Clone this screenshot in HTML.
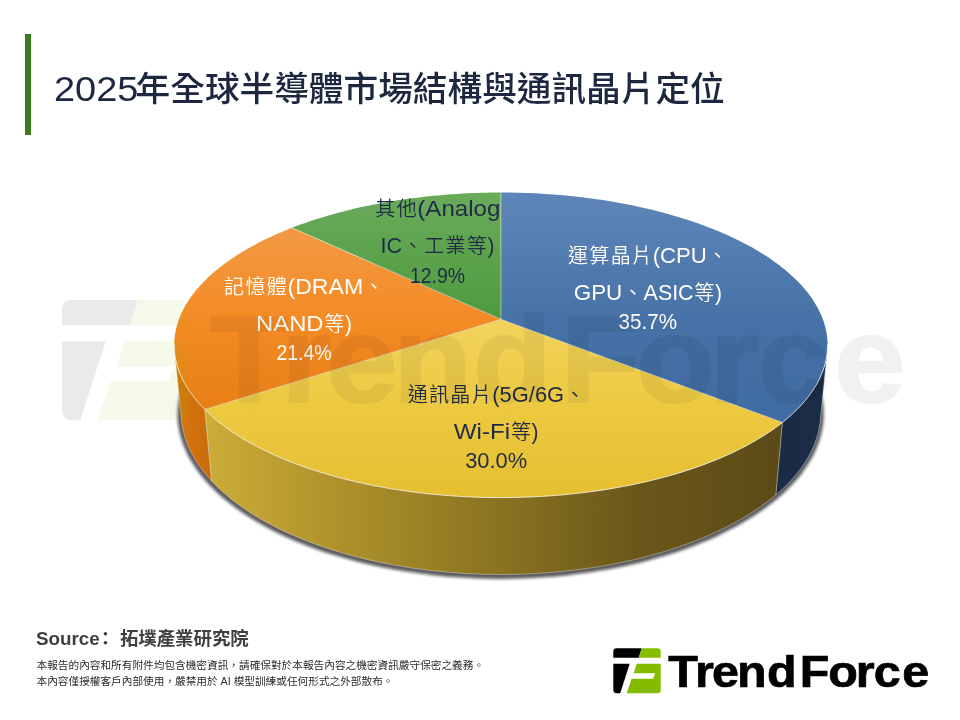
<!DOCTYPE html>
<html lang="zh-Hant"><head><meta charset="utf-8"><title>2025年全球半導體市場結構與通訊晶片定位</title>
<style>
html,body{margin:0;padding:0;background:#fff}
body{width:960px;height:720px;position:relative;overflow:hidden;font-family:"Liberation Sans","Noto Sans CJK TC",sans-serif}
.bar{position:absolute;left:25px;top:33.8px;width:5.9px;height:101.6px;background:#3b7a1f}
.title{position:absolute;left:53.7px;top:62.8px;height:52px;line-height:52px;font-size:34.667px;font-weight:500;color:#1d2840;white-space:nowrap;letter-spacing:0}
.title .n{display:inline-block;width:81.9px;transform-origin:0 50%;transform:scaleX(1.095)}
.src{position:absolute;left:35.7px;top:627px;font-size:18.4px;line-height:24px;font-weight:bold;color:#404040;white-space:nowrap}
.src .s{display:inline-block;transform-origin:0 50%;transform:scaleX(1.023);margin-right:1.4px}
.src .c{display:inline-block;margin-left:-3.3px;margin-right:5.4px}
.dis{position:absolute;left:36.5px;top:656.7px;font-size:10.667px;line-height:16px;color:#2b2b2b;white-space:nowrap}
svg{position:absolute;left:0;top:0}
svg text{font-family:"Liberation Sans","Noto Sans CJK TC",sans-serif;font-size:21.333px}
.cj{font-size:20px;letter-spacing:1.333px;font-weight:350}
.k{fill:#000} .g{fill:#84bd00}
</style></head><body>
<div class="bar"></div>
<div class="title"><span class="n">2025</span>年全球半導體市場結構與通訊晶片定位</div>
<svg width="960" height="720" viewBox="0 0 960 720">
<defs>
<filter id="sh" x="-10%" y="-10%" width="120%" height="120%"><feGaussianBlur stdDeviation="1.8"/></filter>
<linearGradient id="gBlue" x1="0" y1="191" x2="0" y2="496" gradientUnits="userSpaceOnUse"><stop offset="0" stop-color="#5f86b8"/><stop offset="0.45" stop-color="#4571a6"/><stop offset="1" stop-color="#3a679d"/></linearGradient>
<linearGradient id="gGreen" x1="0" y1="191" x2="0" y2="330" gradientUnits="userSpaceOnUse"><stop offset="0" stop-color="#6bab5c"/><stop offset="1" stop-color="#4b9a3b"/></linearGradient>
<linearGradient id="gOrange" x1="0" y1="225" x2="0" y2="420" gradientUnits="userSpaceOnUse"><stop offset="0" stop-color="#f29a45"/><stop offset="0.5" stop-color="#f48a24"/><stop offset="1" stop-color="#e77d14"/></linearGradient>
<linearGradient id="gYellow" x1="0" y1="320" x2="0" y2="496" gradientUnits="userSpaceOnUse"><stop offset="0" stop-color="#f2d35c"/><stop offset="0.5" stop-color="#edc940"/><stop offset="1" stop-color="#e6bf31"/></linearGradient>
<linearGradient id="sYellow" x1="205" y1="0" x2="782" y2="0" gradientUnits="userSpaceOnUse"><stop offset="0" stop-color="#cdad38"/><stop offset="0.2" stop-color="#b2952c"/><stop offset="0.5" stop-color="#8b7421"/><stop offset="0.75" stop-color="#6a571a"/><stop offset="1" stop-color="#5c4a17"/></linearGradient>
<linearGradient id="sOrange" x1="174" y1="0" x2="212" y2="0" gradientUnits="userSpaceOnUse"><stop offset="0" stop-color="#d9780f"/><stop offset="1" stop-color="#c96b0c"/></linearGradient>
<linearGradient id="sBlue" x1="775" y1="0" x2="829" y2="0" gradientUnits="userSpaceOnUse"><stop offset="0" stop-color="#192b45"/><stop offset="1" stop-color="#1b2d46"/></linearGradient>
<g id="tfi">
<path class="k" d="M3.2 0H28.4L25.5 9.45H0V3.2A3.2 3.2 0 0 1 3.2 0Z"/>
<path class="g" d="M28.4 0H44.2A3.2 3.2 0 0 1 47.4 3.2V9.45H25.5Z"/>
<path class="k" d="M0 15.45H16.4L6.9 45H3.5A3.5 3.5 0 0 1 0 41.5Z"/>
<path class="g" d="M23.4 15.45H47.4V41.8A3.2 3.2 0 0 1 44.2 45H13.4L18.3 30.4H39.8L41.9 25H20.4Z"/>
</g>
</defs>
<path d="M500.9 253.0L510.4 253.1L519.8 253.3L529.2 253.6L538.6 254.1L548.0 254.8L557.3 255.5L566.6 256.4L575.9 257.5L585.1 258.7L594.2 260.0L603.3 261.5L612.3 263.1L621.2 264.8L630.0 266.7L638.8 268.7L647.4 270.9L655.9 273.2L664.3 275.6L672.6 278.2L680.8 280.9L688.8 283.7L696.6 286.7L704.3 289.7L711.8 293.0L719.2 296.3L726.4 299.8L733.3 303.4L740.1 307.1L746.7 311.0L753.1 314.9L759.2 319.0L765.1 323.2L770.7 327.6L776.1 332.0L781.3 336.5L786.2 341.2L790.7 345.9L795.0 350.8L799.0 355.7L802.7 360.8L806.1 365.9L809.1 371.1L811.8 376.4L814.2 381.7L816.2 387.1L817.8 392.5L819.1 397.9L820.0 403.4L820.5 408.9L820.6 414.5L820.3 420.1L819.6 425.8L818.4 431.5L816.9 437.2L814.9 442.9L812.5 448.6L809.7 454.4L806.4 460.1L802.7 465.7L798.6 471.4L794.0 477.0L788.9 482.5L783.4 488.0L777.5 493.4L771.2 498.7L764.4 503.9L757.2 509.0L749.5 514.0L741.4 518.9L733.0 523.6L724.1 528.1L714.9 532.6L705.2 536.8L695.3 540.9L684.9 544.7L674.2 548.4L663.3 551.8L652.0 555.1L640.4 558.1L628.6 560.9L616.5 563.4L604.2 565.7L591.8 567.7L579.1 569.5L566.3 571.0L553.4 572.3L540.4 573.2L527.3 573.9L514.1 574.3L500.9 574.5L487.7 574.3L474.6 573.9L461.5 573.2L448.4 572.3L435.5 571.0L422.7 569.5L410.0 567.7L397.6 565.7L385.3 563.4L373.2 560.9L361.4 558.1L349.8 555.1L338.6 551.8L327.6 548.4L316.9 544.7L306.6 540.9L296.6 536.8L287.0 532.6L277.7 528.1L268.8 523.6L260.4 518.9L252.3 514.0L244.7 509.0L237.4 503.9L230.7 498.7L224.3 493.4L218.4 488.0L212.9 482.5L207.9 477.0L203.3 471.4L199.1 465.7L195.4 460.1L192.1 454.4L189.3 448.6L186.9 442.9L184.9 437.2L183.4 431.5L182.3 425.8L181.5 420.1L181.3 414.5L181.4 408.9L181.9 403.4L182.7 397.9L184.0 392.5L185.6 387.1L187.7 381.7L190.0 376.4L192.7 371.1L195.7 365.9L199.1 360.8L202.8 355.7L206.8 350.8L211.1 345.9L215.7 341.2L220.5 336.5L225.7 332.0L231.1 327.6L236.7 323.2L242.6 319.0L248.8 314.9L255.1 311.0L261.7 307.1L268.5 303.4L275.5 299.8L282.6 296.3L290.0 293.0L297.5 289.7L305.2 286.7L313.1 283.7L321.1 280.9L329.2 278.2L337.5 275.6L345.9 273.2L354.4 270.9L363.0 268.7L371.8 266.7L380.6 264.8L389.5 263.1L398.5 261.5L407.6 260.0L416.7 258.7L425.9 257.5L435.2 256.4L444.5 255.5L453.8 254.8L463.2 254.1L472.6 253.6L482.0 253.3L491.5 253.1L500.9 253.0Z" fill="#2e2e31" stroke="#2e2e31" stroke-width="7" opacity="0.78" filter="url(#sh)" transform="translate(-0.3,0.9)"/>
<path d="M204.8 409.4L202.2 406.8L199.7 404.1L197.4 401.5L195.2 398.8L193.1 396.1L191.1 393.4L189.2 390.7L187.4 387.9L185.8 385.2L184.2 382.5L182.8 379.7L181.5 377.0L180.3 374.2L179.2 371.5L178.2 368.7L177.3 366.0L176.6 363.2L175.9 360.5L175.4 357.8L174.9 355.0L174.6 352.3L181.7 421.3L182.0 424.1L182.4 427.0L183.0 429.8L183.7 432.7L184.4 435.5L185.3 438.4L186.3 441.3L187.4 444.2L188.6 447.0L189.9 449.9L191.3 452.8L192.8 455.6L194.4 458.5L196.2 461.3L198.0 464.2L200.0 467.0L202.1 469.9L204.3 472.7L206.6 475.5L209.0 478.3L211.5 481.1Z" fill="url(#sOrange)"/>
<path d="M827.2 352.6L826.8 355.3L826.4 358.0L825.8 360.7L825.2 363.5L824.4 366.2L823.5 369.0L822.5 371.7L821.4 374.4L820.2 377.2L818.9 379.9L817.5 382.7L816.0 385.4L814.3 388.1L812.5 390.8L810.6 393.5L808.7 396.2L806.5 398.9L804.3 401.6L802.0 404.2L799.5 406.9L797.0 409.5L794.3 412.1L791.5 414.7L788.6 417.3L785.6 419.9L782.4 422.4L775.9 494.8L779.0 492.1L782.0 489.4L784.8 486.7L787.6 483.9L790.2 481.2L792.7 478.4L795.1 475.6L797.4 472.8L799.6 470.0L801.7 467.2L803.7 464.3L805.5 461.5L807.3 458.7L808.9 455.8L810.4 452.9L811.9 450.1L813.2 447.2L814.4 444.4L815.5 441.5L816.4 438.6L817.3 435.8L818.1 432.9L818.8 430.1L819.3 427.2L819.8 424.4L820.1 421.6Z" fill="url(#sBlue)"/>
<path d="M782.4 422.4L779.2 424.9L775.9 427.4L772.4 429.9L768.8 432.3L765.1 434.8L761.3 437.1L757.4 439.5L753.4 441.8L749.3 444.1L745.1 446.4L740.8 448.6L736.3 450.8L731.8 453.0L727.2 455.1L722.4 457.2L717.6 459.2L712.7 461.2L707.7 463.2L702.6 465.1L697.4 466.9L692.1 468.7L686.7 470.5L681.2 472.2L675.7 473.9L670.1 475.6L664.4 477.1L658.6 478.6L652.7 480.1L646.8 481.5L640.8 482.9L634.8 484.2L628.6 485.5L622.4 486.6L616.2 487.8L609.9 488.9L603.6 489.9L597.2 490.8L590.7 491.7L584.2 492.5L577.7 493.3L571.1 494.0L564.5 494.7L557.9 495.3L551.3 495.8L544.6 496.2L537.9 496.6L531.2 496.9L524.4 497.2L517.7 497.4L510.9 497.5L504.2 497.6L497.4 497.6L490.6 497.5L483.9 497.4L477.1 497.2L470.4 496.9L463.7 496.6L457.0 496.2L450.3 495.8L443.6 495.2L437.0 494.6L430.4 494.0L423.8 493.3L417.3 492.5L410.8 491.7L404.4 490.8L398.0 489.8L391.7 488.8L385.4 487.7L379.1 486.6L372.9 485.4L366.8 484.2L360.8 482.8L354.8 481.5L348.9 480.1L343.0 478.6L337.2 477.1L331.5 475.5L325.9 473.9L320.4 472.2L314.9 470.5L309.5 468.7L304.3 466.9L299.1 465.0L294.0 463.1L288.9 461.1L284.0 459.1L279.2 457.1L274.5 455.0L269.8 452.9L265.3 450.7L260.9 448.5L256.6 446.3L252.3 444.0L248.2 441.7L244.2 439.4L240.3 437.0L236.5 434.7L232.9 432.2L229.3 429.8L225.8 427.3L222.5 424.8L219.2 422.3L216.1 419.8L213.1 417.2L210.2 414.6L207.4 412.0L204.8 409.4L211.5 481.1L214.2 483.8L216.9 486.5L219.8 489.3L222.7 492.0L225.8 494.6L229.0 497.3L232.2 499.9L235.6 502.5L239.1 505.1L242.8 507.7L246.5 510.2L250.3 512.7L254.2 515.2L258.2 517.6L262.4 520.0L266.6 522.4L270.9 524.7L275.4 527.0L279.9 529.2L284.5 531.4L289.2 533.6L294.0 535.7L298.9 537.8L303.9 539.8L309.0 541.8L314.2 543.7L319.4 545.6L324.8 547.5L330.2 549.2L335.7 551.0L341.2 552.6L346.9 554.3L352.6 555.8L358.4 557.3L364.2 558.8L370.1 560.2L376.1 561.5L382.1 562.8L388.2 564.0L394.4 565.1L400.5 566.2L406.8 567.2L413.1 568.2L419.4 569.1L425.8 569.9L432.2 570.7L438.6 571.3L445.1 572.0L451.6 572.5L458.1 573.0L464.6 573.4L471.2 573.8L477.7 574.1L484.3 574.3L490.9 574.4L497.5 574.5L504.1 574.5L510.7 574.4L517.3 574.3L523.8 574.1L530.4 573.8L537.0 573.4L543.5 573.0L550.0 572.5L556.5 572.0L563.0 571.4L569.4 570.7L575.8 569.9L582.2 569.1L588.5 568.2L594.8 567.3L601.0 566.3L607.2 565.2L613.4 564.0L619.4 562.8L625.5 561.6L631.5 560.2L637.4 558.8L643.2 557.4L649.0 555.9L654.7 554.3L660.4 552.7L665.9 551.0L671.4 549.3L676.8 547.5L682.2 545.7L687.4 543.8L692.6 541.9L697.7 539.9L702.7 537.9L707.6 535.8L712.4 533.7L717.1 531.5L721.7 529.3L726.3 527.1L730.7 524.8L735.0 522.5L739.3 520.1L743.4 517.7L747.5 515.3L751.4 512.8L755.2 510.3L758.9 507.8L762.5 505.2L766.0 502.6L769.4 500.0L772.7 497.4L775.9 494.8Z" fill="url(#sYellow)"/>
<path d="M782.4 422.4L775.9 494.8M204.8 409.4L211.5 481.1" stroke="#fff" stroke-opacity="0.55" stroke-width="0.8" fill="none"/>
<path d="M827.2 352.6L820.1 421.6L819.8 424.4L819.3 427.2L818.8 430.1L818.1 432.9L817.3 435.8L816.4 438.6L815.5 441.5L814.4 444.4L813.2 447.2L811.9 450.1L810.4 452.9L808.9 455.8L807.3 458.7L805.5 461.5L803.7 464.3L801.7 467.2L799.6 470.0L797.4 472.8L795.1 475.6L792.7 478.4L790.2 481.2L787.6 483.9L784.8 486.6L782.0 489.4L779.0 492.1L775.9 494.7L772.7 497.4L769.4 500.0L766.0 502.6L762.5 505.2L758.9 507.8L755.2 510.3L751.4 512.8L747.4 515.3L743.4 517.7L739.3 520.1L735.0 522.5L730.7 524.8L726.3 527.1L721.7 529.3L717.1 531.5L712.4 533.7L707.5 535.8L702.6 537.9L697.6 539.9L692.5 541.9L687.4 543.8L682.1 545.7L676.8 547.5L671.4 549.3L665.9 551.1L660.3 552.7L654.6 554.3L648.9 555.9L643.1 557.4L637.3 558.9L631.4 560.3L625.4 561.6L619.3 562.8L613.2 564.1L607.1 565.2L600.9 566.3L594.7 567.3L588.4 568.2L582.0 569.1L575.7 569.9L569.3 570.7L562.8 571.4L556.3 572.0L549.8 572.6L543.3 573.0L536.8 573.4L530.2 573.8L523.7 574.1L517.1 574.3L510.5 574.4L503.9 574.5L497.3 574.5L490.7 574.4L484.1 574.3L477.5 574.0L470.9 573.8L464.4 573.4L457.8 573.0L451.3 572.5L444.8 571.9L438.4 571.3L431.9 570.6L425.5 569.9L419.2 569.0L412.8 568.2L406.5 567.2L400.3 566.2L394.1 565.1L388.0 563.9L381.9 562.7L375.8 561.5L369.9 560.1L364.0 558.7L358.1 557.3L352.3 555.8L346.6 554.2L341.0 552.6L335.4 550.9L329.9 549.2L324.5 547.4L319.2 545.5L313.9 543.6L308.8 541.7L303.7 539.7L298.7 537.7L293.8 535.6L289.0 533.5L284.3 531.3L279.6 529.1L275.1 526.8L270.7 524.6L266.4 522.2L262.1 519.9L258.0 517.5L254.0 515.0L250.1 512.6L246.2 510.1L242.5 507.5L238.9 505.0L235.4 502.4L232.0 499.8L228.8 497.1L225.6 494.5L222.5 491.8L219.6 489.1L216.7 486.4L214.0 483.6L211.4 480.9L208.9 478.1L206.5 475.3L204.2 472.5L202.0 469.7L199.9 466.9L198.0 464.1L196.1 461.2L194.4 458.4L192.7 455.5L191.2 452.7L189.8 449.8L188.5 446.9L187.3 444.1L186.3 441.2L185.3 438.4L184.4 435.5L183.7 432.6L183.0 429.8L182.4 426.9L182.0 424.1L181.7 421.3L174.6 352.3" stroke="#fff" stroke-opacity="0.45" stroke-width="0.8" fill="none"/>
<path d="M500.9 319.3L500.9 192.5L505.7 192.5L510.6 192.6L515.4 192.7L520.2 192.8L525.0 192.9L529.8 193.1L534.6 193.3L539.4 193.6L544.2 193.9L549.0 194.2L553.8 194.5L558.6 194.9L563.3 195.3L568.1 195.8L572.8 196.3L577.6 196.8L582.3 197.3L587.0 197.9L591.6 198.5L596.3 199.2L601.0 199.8L605.6 200.6L610.2 201.3L614.8 202.1L619.4 202.9L623.9 203.7L628.4 204.6L632.9 205.5L637.4 206.5L641.9 207.4L646.3 208.5L650.7 209.5L655.1 210.6L659.4 211.7L663.7 212.8L668.0 214.0L672.3 215.2L676.5 216.4L680.7 217.7L684.8 219.0L688.9 220.3L693.0 221.7L697.0 223.1L701.0 224.5L705.0 225.9L708.9 227.4L712.8 228.9L716.6 230.5L720.4 232.1L724.1 233.7L727.8 235.3L731.5 237.0L735.1 238.7L738.6 240.4L742.1 242.2L745.6 244.0L748.9 245.8L752.3 247.6L755.6 249.5L758.8 251.4L762.0 253.4L765.1 255.3L768.1 257.3L771.1 259.3L774.0 261.4L776.9 263.4L779.7 265.5L782.4 267.7L785.1 269.8L787.6 272.0L790.2 274.2L792.6 276.4L795.0 278.7L797.3 280.9L799.5 283.2L801.7 285.5L803.8 287.9L805.8 290.3L807.7 292.6L809.5 295.1L811.3 297.5L813.0 299.9L814.5 302.4L816.0 304.9L817.5 307.4L818.8 309.9L820.0 312.5L821.2 315.0L822.2 317.6L823.2 320.2L824.1 322.8L824.9 325.5L825.5 328.1L826.1 330.7L826.6 333.4L827.0 336.1L827.3 338.8L827.5 341.5L827.6 344.2L827.5 346.9L827.4 349.6L827.2 352.3L826.9 355.1L826.4 357.8L825.9 360.5L825.2 363.3L824.5 366.0L823.6 368.8L822.6 371.5L821.5 374.3L820.3 377.0L819.0 379.8L817.6 382.5L816.0 385.3L814.4 388.0L812.6 390.7L810.7 393.4L808.7 396.1L806.6 398.8L804.4 401.5L802.0 404.2L799.6 406.8L797.0 409.5L794.3 412.1L791.5 414.7L788.6 417.3L785.6 419.9L782.4 422.4Z" fill="url(#gBlue)"/>
<path d="M500.9 319.3L782.4 422.4L779.2 424.9L775.9 427.4L772.4 429.9L768.8 432.3L765.1 434.8L761.3 437.1L757.4 439.5L753.4 441.8L749.3 444.1L745.1 446.4L740.8 448.6L736.3 450.8L731.8 453.0L727.2 455.1L722.4 457.2L717.6 459.2L712.7 461.2L707.7 463.2L702.6 465.1L697.4 466.9L692.1 468.7L686.7 470.5L681.2 472.2L675.7 473.9L670.1 475.6L664.4 477.1L658.6 478.6L652.7 480.1L646.8 481.5L640.8 482.9L634.8 484.2L628.6 485.5L622.4 486.6L616.2 487.8L609.9 488.9L603.6 489.9L597.2 490.8L590.7 491.7L584.2 492.5L577.7 493.3L571.1 494.0L564.5 494.7L557.9 495.3L551.3 495.8L544.6 496.2L537.9 496.6L531.2 496.9L524.4 497.2L517.7 497.4L510.9 497.5L504.2 497.6L497.4 497.6L490.6 497.5L483.9 497.4L477.1 497.2L470.4 496.9L463.7 496.6L457.0 496.2L450.3 495.8L443.6 495.2L437.0 494.6L430.4 494.0L423.8 493.3L417.3 492.5L410.8 491.7L404.4 490.8L398.0 489.8L391.7 488.8L385.4 487.7L379.1 486.6L372.9 485.4L366.8 484.2L360.8 482.8L354.8 481.5L348.9 480.1L343.0 478.6L337.2 477.1L331.5 475.5L325.9 473.9L320.4 472.2L314.9 470.5L309.5 468.7L304.3 466.9L299.1 465.0L294.0 463.1L288.9 461.1L284.0 459.1L279.2 457.1L274.5 455.0L269.8 452.9L265.3 450.7L260.9 448.5L256.6 446.3L252.3 444.0L248.2 441.7L244.2 439.4L240.3 437.0L236.5 434.7L232.9 432.2L229.3 429.8L225.8 427.3L222.5 424.8L219.2 422.3L216.1 419.8L213.1 417.2L210.2 414.6L207.4 412.0L204.8 409.4Z" fill="url(#gYellow)"/>
<path d="M500.9 319.3L204.8 409.4L202.2 406.8L199.8 404.1L197.4 401.5L195.2 398.8L193.1 396.1L191.1 393.4L189.2 390.7L187.5 388.0L185.8 385.3L184.3 382.6L182.9 379.8L181.5 377.1L180.3 374.4L179.2 371.6L178.3 368.9L177.4 366.1L176.6 363.4L176.0 360.7L175.4 357.9L175.0 355.2L174.6 352.5L174.4 349.8L174.3 347.0L174.3 344.3L174.3 341.6L174.5 339.0L174.8 336.3L175.2 333.6L175.6 331.0L176.2 328.3L176.9 325.7L177.7 323.1L178.5 320.5L179.5 317.9L180.5 315.3L181.7 312.8L182.9 310.2L184.2 307.7L185.6 305.2L187.1 302.7L188.7 300.2L190.3 297.8L192.1 295.4L193.9 293.0L195.8 290.6L197.8 288.2L199.8 285.9L202.0 283.6L204.2 281.3L206.5 279.0L208.8 276.8L211.2 274.5L213.7 272.3L216.3 270.2L219.0 268.0L221.7 265.9L224.4 263.8L227.3 261.7L230.2 259.7L233.1 257.7L236.2 255.7L239.2 253.7L242.4 251.8L245.6 249.9L248.8 248.0L252.2 246.2L255.5 244.4L258.9 242.6L262.4 240.8L265.9 239.1L269.5 237.4L273.1 235.7L276.8 234.1L280.5 232.5L284.3 230.9L288.1 229.3L291.9 227.8Z" fill="url(#gOrange)"/>
<path d="M500.9 319.3L291.9 227.8L295.9 226.3L299.8 224.8L303.8 223.4L307.9 222.0L312.0 220.6L316.1 219.3L320.3 218.0L324.5 216.7L328.7 215.4L333.0 214.2L337.3 213.0L341.6 211.9L346.0 210.8L350.4 209.7L354.8 208.6L359.2 207.6L363.7 206.6L368.2 205.7L372.7 204.8L377.3 203.9L381.8 203.0L386.4 202.2L391.0 201.4L395.7 200.6L400.3 199.9L405.0 199.2L409.7 198.6L414.4 198.0L419.1 197.4L423.9 196.8L428.6 196.3L433.4 195.8L438.1 195.4L442.9 194.9L447.7 194.5L452.5 194.2L457.3 193.9L462.2 193.6L467.0 193.3L471.8 193.1L476.7 192.9L481.5 192.8L486.4 192.7L491.2 192.6L496.1 192.5L500.9 192.5Z" fill="url(#gGreen)"/>
<path d="M827.6 344.4L827.5 347.1L827.4 349.8L827.2 352.6L826.8 355.3L826.4 358.0L825.8 360.8L825.2 363.5L824.4 366.2L823.5 369.0L822.5 371.7L821.4 374.4L820.2 377.2L818.9 379.9L817.5 382.7L816.0 385.4L814.3 388.1L812.5 390.8L810.6 393.5L808.7 396.2L806.5 398.9L804.3 401.6L802.0 404.2L799.5 406.9L797.0 409.5L794.3 412.1L791.5 414.7L788.6 417.3L785.6 419.9L782.5 422.4L779.2 424.9L775.9 427.4L772.4 429.9L768.8 432.3L765.1 434.8L761.3 437.1L757.4 439.5L753.4 441.8L749.3 444.1L745.1 446.4L740.7 448.6L736.3 450.8L731.8 453.0L727.1 455.1L722.4 457.2L717.6 459.2L712.6 461.2L707.6 463.2L702.5 465.1L697.3 466.9L692.0 468.8L686.6 470.5L681.2 472.3L675.6 473.9L670.0 475.6L664.3 477.1L658.5 478.7L652.6 480.1L646.7 481.6L640.7 482.9L634.6 484.2L628.5 485.5L622.3 486.7L616.1 487.8L609.8 488.9L603.4 489.9L597.0 490.8L590.6 491.7L584.1 492.6L577.6 493.3L571.0 494.0L564.4 494.7L557.8 495.3L551.1 495.8L544.4 496.2L537.7 496.6L531.0 496.9L524.2 497.2L517.5 497.4L510.7 497.5L504.0 497.6L497.2 497.6L490.4 497.5L483.7 497.4L476.9 497.2L470.2 496.9L463.5 496.6L456.7 496.2L450.1 495.7L443.4 495.2L436.8 494.6L430.2 494.0L423.6 493.3L417.1 492.5L410.6 491.6L404.1 490.7L397.7 489.8L391.4 488.8L385.1 487.7L378.9 486.5L372.7 485.4L366.6 484.1L360.5 482.8L354.5 481.4L348.6 480.0L342.7 478.5L337.0 477.0L331.3 475.4L325.7 473.8L320.1 472.1L314.7 470.4L309.3 468.6L304.0 466.8L298.8 464.9L293.7 463.0L288.7 461.0L283.8 459.0L278.9 457.0L274.2 454.9L269.6 452.8L265.1 450.6L260.6 448.4L256.3 446.2L252.1 443.9L248.0 441.6L244.0 439.3L240.1 436.9L236.3 434.5L232.6 432.1L229.1 429.6L225.6 427.2L222.3 424.7L219.1 422.2L215.9 419.6L212.9 417.1L210.0 414.5L207.3 411.9L204.6 409.2L202.0 406.6L199.6 404.0L197.3 401.3L195.1 398.6L193.0 395.9L191.0 393.2L189.1 390.5L187.4 387.8L185.7 385.1L184.2 382.4L182.8 379.6L181.5 376.9L180.3 374.2L179.2 371.4L178.2 368.7L177.3 366.0L176.6 363.2L175.9 360.5L175.4 357.7L174.9 355.0L174.6 352.3L174.4 349.6L174.3 346.9L174.3 344.2" stroke="#fff" stroke-opacity="0.75" stroke-width="1" fill="none"/>
<path d="M500.91 319.27L500.9 192.5M500.91 319.27L782.4 422.4M500.91 319.27L204.8 409.4M500.91 319.27L291.9 227.8" stroke="#fff" stroke-opacity="0.6" stroke-width="0.8" fill="none"/>
<text y="215.8" fill="#1f2b47"><tspan class="cj" x="375.3">其他</tspan><tspan x="417.3" textLength="83.0" lengthAdjust="spacingAndGlyphs">(Analog</tspan></text><text y="253.3" fill="#1f2b47"><tspan x="380.5" textLength="21.6" lengthAdjust="spacingAndGlyphs">IC</tspan><tspan class="cj" x="402.8">、工業等</tspan><tspan x="487.4" textLength="7.0" lengthAdjust="spacingAndGlyphs">)</tspan></text><text y="282.5" fill="#1f2b47"><tspan x="409.9" textLength="55.2" lengthAdjust="spacingAndGlyphs">12.9%</tspan></text>
<text y="294.0" fill="#fffdf9"><tspan class="cj" x="224.1">記憶體</tspan><tspan x="287.5" textLength="75.7" lengthAdjust="spacingAndGlyphs">(DRAM</tspan><tspan class="cj" x="363.9">、</tspan></text><text y="330.6" fill="#fffdf9"><tspan x="256.0" textLength="67.6" lengthAdjust="spacingAndGlyphs">NAND</tspan><tspan class="cj" x="324.3">等</tspan><tspan x="345.0" textLength="7.0" lengthAdjust="spacingAndGlyphs">)</tspan></text><text y="359.7" fill="#fffdf9"><tspan x="276.4" textLength="55.2" lengthAdjust="spacingAndGlyphs">21.4%</tspan></text>
<text y="262.7" fill="#fffdf9"><tspan class="cj" x="568.0">運算晶片</tspan><tspan x="652.7" textLength="54.2" lengthAdjust="spacingAndGlyphs">(CPU</tspan><tspan class="cj" x="707.6">、</tspan></text><text y="299.7" fill="#fffdf9"><tspan x="573.7" textLength="48.6" lengthAdjust="spacingAndGlyphs">GPU</tspan><tspan class="cj" x="622.9">、</tspan><tspan x="643.6" textLength="50.0" lengthAdjust="spacingAndGlyphs">ASIC</tspan><tspan class="cj" x="694.2">等</tspan><tspan x="714.9" textLength="7.0" lengthAdjust="spacingAndGlyphs">)</tspan></text><text y="329.0" fill="#fffdf9"><tspan x="618.6" textLength="58.4" lengthAdjust="spacingAndGlyphs">35.7%</tspan></text>
<text y="401.7" fill="#1f2b47"><tspan class="cj" x="407.7">通訊晶片</tspan><tspan x="492.3" textLength="71.8" lengthAdjust="spacingAndGlyphs">(5G/6G</tspan><tspan class="cj" x="564.8">、</tspan></text><text y="438.8" fill="#1f2b47"><tspan x="453.8" textLength="56.4" lengthAdjust="spacingAndGlyphs">Wi-Fi</tspan><tspan class="cj" x="510.9">等</tspan><tspan x="531.6" textLength="7.0" lengthAdjust="spacingAndGlyphs">)</tspan></text><text y="467.9" fill="#1f2b47"><tspan x="465.2" textLength="62.0" lengthAdjust="spacingAndGlyphs">30.0%</tspan></text>
<use href="#tfi" transform="translate(61.9,300) scale(2.67)" opacity="0.08"/>
<g transform="translate(62.95,294.25) scale(2.667,2.75)" opacity="0.05"><text class="k" transform="scale(1.09,1)" x="50.43 74.99 90.51 113.5 141.06 171.16 197.13 222.33 238.9 265.2" y="39.0" stroke="#000" stroke-width="0.7" style="font-family:'Liberation Sans',sans-serif;font-weight:bold;font-size:44.5px">TrendForce</text></g>
<use href="#tfi" transform="translate(613.3,648.3)"/>
<g transform="translate(613.3,648.3)"><text class="k" transform="scale(1.09,1)" x="50.43 74.99 90.51 113.5 141.06 171.16 197.13 222.33 238.9 265.2" y="39.0" stroke="#000" stroke-width="0.7" style="font-family:'Liberation Sans',sans-serif;font-weight:bold;font-size:44.5px">TrendForce</text></g>
</svg>
<div class="src"><span class="s">Source</span><span class="c">：</span>拓墣產業研究院</div>
<div class="dis">本報告的內容和所有附件均包含機密資訊，請確保對於本報告內容之機密資訊嚴守保密之義務。<br>本內容僅授權客戶內部使用，嚴禁用於 AI 模型訓練或任何形式之外部散布。</div>
</body></html>
